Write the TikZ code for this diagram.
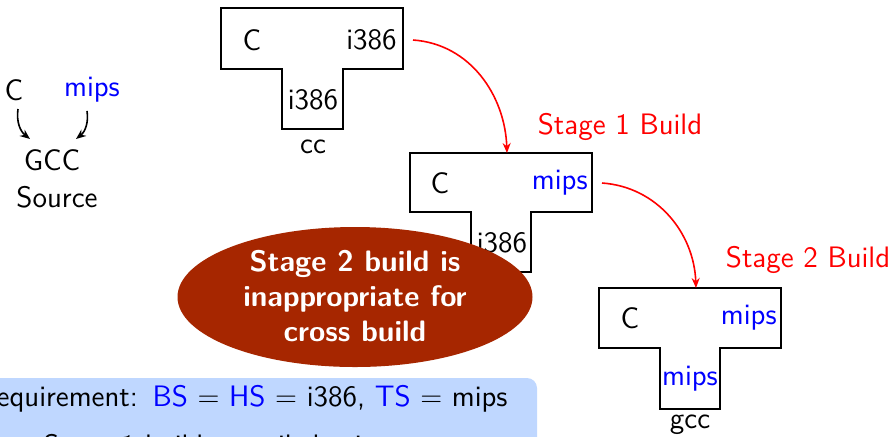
\documentclass[tikz,border=0pt]{standalone}
\usetikzlibrary{arrows.meta,shapes.geometric}
\definecolor{brick}{RGB}{166,38,0}
\definecolor{boxblue}{RGB}{191,215,255}
\definecolor{pureblue}{RGB}{0,0,255}
\definecolor{purered}{RGB}{255,0,0}
\begin{document}
\begin{tikzpicture}[x=0.5pt,y=0.5pt,
  font=\sffamily\fontsize{14.8}{17}\selectfont,
  lbl/.style={inner sep=5pt},
  tbox/.style={line width=1pt,fill=white},
  bluetxt/.style={text=pureblue},
  redarrow/.style={purered,line width=0.8pt,-{Stealth[length=5pt,width=4pt]}},
  blackarrow/.style={black,line width=0.8pt,-{Stealth[length=5pt,width=4pt]}},
  stagelbl/.style={text=purered},
  note/.style={ellipse,fill=brick,minimum width=177.5pt,minimum height=70pt,inner sep=0pt},
  notetext/.style={text=white,font=\sffamily\bfseries\fontsize{14.8}{17.5}\selectfont,inner sep=0pt,align=center}
]
\useasboundingbox (0,0) rectangle (894,-436);
\clip (0,0) rectangle (894,-436);

% left: GCC source
\node[lbl] (lc) at (14,-90) {C};
\node[lbl,bluetxt] (lm) at (92,-90) {mips};
\node[lbl] (gcc) at (52,-160) {GCC};
\node[lbl] (src) at (57,-197) {Source};
\draw[blackarrow] ([xshift=2pt,yshift=1pt]lc.south) to[bend right=30] ([xshift=-11pt]gcc.north);
\draw[blackarrow] ([xshift=-2.5pt,yshift=1pt]lm.south) to[bend left=30] ([xshift=12pt]gcc.north);

% T diagram 1 (cc)
\draw[tbox] (221,-8) -- ++(182,0) -- ++(0,-61) -- ++(-60,0) -- ++(0,-60) -- ++(-61,0) -- ++(0,60) -- ++(-61,0) -- cycle;
\node[lbl] (t1c) at (252,-40) {C};
\node[lbl,anchor=east] (t1r) at (407,-40) {i386};
\node[lbl] (t1b) at (313,-100) {i386};
\node[lbl] (t1n) at (313,-147) {cc};

% T diagram 2 (stage 1)
\draw[tbox] (410,-153) -- ++(182,0) -- ++(0,-59) -- ++(-61,0) -- ++(0,-60) -- ++(-60,0) -- ++(0,60) -- ++(-61,0) -- cycle;
\coordinate (t2top) at (507,-153);
\node[lbl] (t2c) at (440,-183) {C};
\node[lbl,bluetxt,anchor=east] (t2r) at (598,-183) {mips};
\node[lbl] (t2b) at (502,-243) {i386};

% T diagram 3 (stage 2)
\draw[tbox] (599,-288) -- ++(182,0) -- ++(0,-60) -- ++(-61,0) -- ++(0,-61) -- ++(-60,0) -- ++(0,61) -- ++(-61,0) -- cycle;
\coordinate (t3top) at (696,-288);
\node[lbl] (t3c) at (630,-318) {C};
\node[lbl,bluetxt,anchor=east] (t3r) at (787,-318) {mips};
\node[lbl,bluetxt] (t3b) at (690,-379) {mips};
\node[lbl] (t3n) at (690,-425) {gcc};

% build arrows
\draw[redarrow] ([xshift=3pt]t1r.east) to[out=-4,in=92] (t2top);
\draw[redarrow] ([xshift=2pt]t2r.east) to[out=-4,in=92] (t3top);
\node[stagelbl] (s1) at (620,-127) {Stage 1 Build};
\node[stagelbl] (s2) at (808,-260) {Stage 2 Build};

% requirement box
\fill[boxblue,rounded corners=5pt] (-30,-378) rectangle (537,-480);
\node[anchor=base east,inner sep=0pt] (req) at (508,-406)
  {Requirement:\ \,\textcolor{pureblue}{BS} $=$ \textcolor{pureblue}{HS} $=$ i386, \textcolor{pureblue}{TS} $=$ mips};
\node[anchor=base west,inner sep=0pt] (s1note) at (43,-455) {Stage 1 build compiled using cc};

% note ellipse
\node[note] (warn) at (355,-297) {};
\node[notetext] (warntext) at (355,-296) {Stage 2 build is\\ inappropriate for\\ cross build};
\end{tikzpicture}
\end{document}
